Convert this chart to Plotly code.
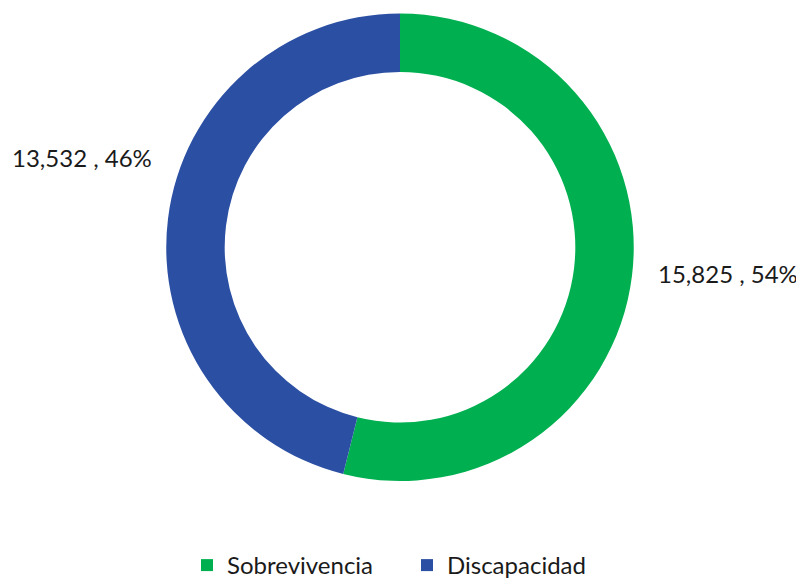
import plotly.graph_objects as go

labels = ["Sobrevivencia", "Discapacidad"]
values = [15825, 13532]
colors = ["#00B050", "#2B4FA3"]

total = sum(values)
label_text = [f"{v:,} , {round(100 * v / total)}%" for v in values]

W, H = 804, 580
OFF = 8  # page body margin shifts the figure by this much


def px_x(p):
    return (p - OFF) / W


def px_y(p):
    return 1 - (p - OFF) / H


fig = go.Figure()
fig.add_trace(go.Pie(
    labels=labels,
    values=values,
    hole=0.75,
    sort=False,
    direction="clockwise",
    rotation=0,
    marker=dict(colors=colors, line=dict(width=0)),
    textinfo="none",
    hoverinfo="label+value+percent",
    domain=dict(x=[px_x(166), px_x(634)], y=[px_y(481), px_y(13.5)]),
))

# data labels placed outside the ring (edge x, centre y, anchor)
label_pos = [(800, 274, "right"), (10, 158, "left")]
for txt, (px, py, anchor) in zip(label_text, label_pos):
    fig.add_annotation(
        x=px_x(px), y=px_y(py), xref="paper", yref="paper",
        text=txt, showarrow=False, xanchor=anchor, yanchor="middle",
        font=dict(size=24, color="#1a1a1a"),
    )

fig.update_layout(
    width=W, height=H,
    margin=dict(l=0, r=0, t=0, b=0),
    paper_bgcolor="white",
    plot_bgcolor="white",
    font=dict(family="Lato, 'Noto Sans', sans-serif", size=22, color="#1a1a1a"),
    showlegend=True,
    legend=dict(
        orientation="h",
        x=px_x(407), xanchor="center",
        y=px_y(565.5), yanchor="middle",
        font=dict(size=24),
        entrywidth=175,
        traceorder="normal",
    ),
)

fig.write_html("out.html")
